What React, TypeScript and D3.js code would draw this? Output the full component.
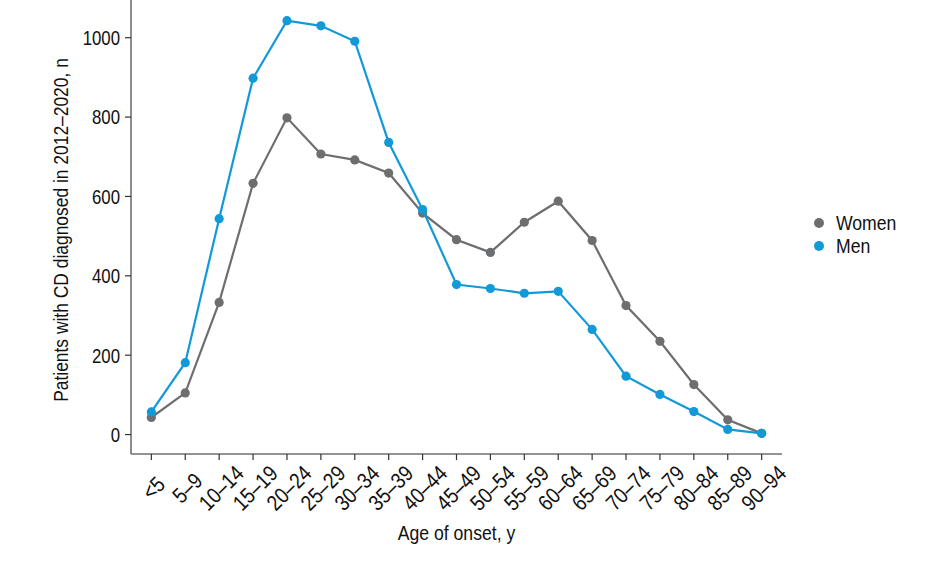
import React from 'react';
import * as d3 from 'd3';

const WIDTH = 951;
const HEIGHT = 580;
const MARGIN = { top: 0, right: 169, bottom: 126, left: 131 };

const ageGroups = [
  '<5', '5–9', '10–14', '15–19', '20–24', '25–29', '30–34', '35–39', '40–44',
  '45–49', '50–54', '55–59', '60–64', '65–69', '70–74', '75–79', '80–84', '85–89', '90–94',
];
const women = [43, 105, 333, 633, 798, 707, 692, 659, 558, 491, 459, 535, 588, 489, 325, 235, 126, 37, 3];
const men = [57, 181, 544, 898, 1043, 1030, 991, 736, 567, 378, 368, 356, 361, 265, 147, 101, 58, 13, 3];
const yTicks = [0, 200, 400, 600, 800, 1000];

const series = [
  { name: 'Women', values: women, color: '#6d6e70' },
  { name: 'Men', values: men, color: '#1199d8' },
];

const FONT = '"Liberation Sans", Arial, sans-serif';
const AXIS = '#6f6f6f';
const INK = '#111';

// text squeezed horizontally around its own anchor point, for a condensed look
function Narrow({ x, y, rotate = 0, anchor = 'start', size = 21, squeeze = 0.84, dy = '0.35em', children }: {
  x: number; y: number; rotate?: number; anchor?: string; size?: number; squeeze?: number; dy?: string;
  children: React.ReactNode;
}) {
  return (
    <g transform={`translate(${x},${y}) rotate(${rotate}) scale(${squeeze},1)`}>
      <text textAnchor={anchor} dy={dy} fontSize={size} fill={INK}>
        {children}
      </text>
    </g>
  );
}

export default function App() {
  const plotW = WIDTH - MARGIN.left - MARGIN.right;
  const plotH = HEIGHT - MARGIN.top - MARGIN.bottom;

  // discrete axis with 0.6 category of padding on each side
  const idx = d3.scaleLinear().domain([-0.6, ageGroups.length - 0.4]).range([0, plotW]);
  const y = d3.scaleLinear().domain([-49, 1095]).range([plotH, 0]);

  const line = d3
    .line<number>()
    .x((_, i) => idx(i))
    .y((d) => y(d));

  return (
    <svg
      width={WIDTH}
      height={HEIGHT}
      style={{ position: 'absolute', left: 0, top: 0, background: '#fff' }}
      fontFamily={FONT}
    >
      <g transform={`translate(${MARGIN.left},${MARGIN.top})`}>
        {series.map((s) => (
          <g key={s.name}>
            <path d={line(s.values) ?? ''} fill="none" stroke={s.color} strokeWidth={2.2} />
            {s.values.map((v, i) => (
              <circle key={i} cx={idx(i)} cy={y(v)} r={4.6} fill={s.color} />
            ))}
          </g>
        ))}

        {/* axes */}
        <line x1={0} x2={0} y1={0} y2={plotH} stroke={AXIS} strokeWidth={1.6} />
        <line x1={0} x2={plotW} y1={plotH} y2={plotH} stroke={AXIS} strokeWidth={1.6} />

        {yTicks.map((t) => (
          <g key={t}>
            <line x1={-6} x2={0} y1={y(t)} y2={y(t)} stroke="#333" strokeWidth={1.2} />
            <Narrow x={-11} y={y(t)} anchor="end" squeeze={0.8}>{t}</Narrow>
          </g>
        ))}

        {ageGroups.map((a, i) => (
          <g key={a}>
            <line x1={idx(i)} x2={idx(i)} y1={plotH} y2={plotH + 6} stroke="#333" strokeWidth={1.2} />
            <Narrow x={idx(i) + 2} y={plotH + 34} rotate={-45} anchor="middle" size={22} squeeze={0.86}>{a}</Narrow>
          </g>
        ))}

        <Narrow x={plotW / 2} y={plotH + 86} anchor="middle" dy="0">
          Age of onset, y
        </Narrow>
        <Narrow x={-70} y={plotH / 2 + 3} rotate={-90} anchor="middle" squeeze={0.83}>
          Patients with CD diagnosed in 2012–2020, n
        </Narrow>
      </g>

      {/* legend */}
      <g transform="translate(819,223)">
        {series.map((s, i) => (
          <g key={s.name}>
            <circle cy={i * 23} r={5} fill={s.color} />
            <Narrow x={17} y={i * 23}>{s.name}</Narrow>
          </g>
        ))}
      </g>
    </svg>
  );
}
